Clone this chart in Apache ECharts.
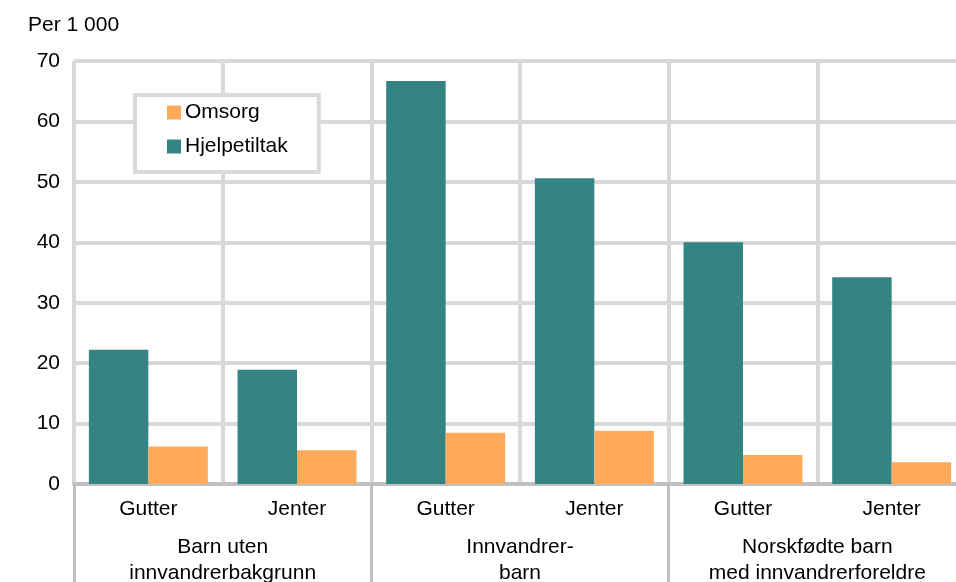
<!DOCTYPE html>
<html>
<head>
<meta charset="utf-8">
<script src="https://cdn.jsdelivr.net/npm/echarts@6/dist/echarts.min.js"></script>
<style>
html,body{margin:0;padding:0;background:#fff;}
#chart{width:956px;height:582px;}
</style>
</head>
<body>
<div id="chart"></div>
<script>
const subCategories = ['Gutter', 'Jenter', 'Gutter', 'Jenter', 'Gutter', 'Jenter'];
const groupCategories = ['Barn uten\ninnvandrerbakgrunn', 'Innvandrer-\nbarn', 'Norskfødte barn\nmed innvandrerforeldre'];
const hjelpetiltak = [22.2, 18.9, 66.7, 50.6, 40.0, 34.2];
const omsorg = [6.2, 5.6, 8.5, 8.8, 4.8, 3.6];
const yTicks = [0, 10, 20, 30, 40, 50, 60, 70];

const FONT = 'Liberation Sans, Arial, sans-serif';
const FS = 21;
const chart = echarts.init(document.getElementById('chart'), null, {renderer: 'canvas'});
chart.setOption({
  animation: false,
  textStyle: {fontFamily: FONT, color: '#000'},
  title: {
    text: 'Per 1 000', left: 23, top: 10,
    textStyle: {fontFamily: FONT, fontSize: FS, fontWeight: 'normal', color: '#000'}
  },
  legend: {
    data: ['Omsorg', 'Hjelpetiltak'],
    orient: 'vertical',
    left: 135, top: 95,
    icon: 'rect',
    itemWidth: 14, itemHeight: 14, itemGap: 13,
    padding: [7, 31, 15, 32],
    borderColor: '#d9d9d9', borderWidth: 4,
    backgroundColor: '#fff',
    textStyle: {fontFamily: FONT, fontSize: FS, color: '#000', padding: [0, 0, 0, -1]}
  },
  grid: {left: 74, width: 892, top: 61, bottom: 98, containLabel: false, outerBoundsMode: 'none'},
  xAxis: [
    {
      type: 'category', data: subCategories, position: 'bottom',
      axisLine: {show: true, lineStyle: {color: '#c0c0c0', width: 4}},
      axisTick: {show: false},
      splitLine: {show: true, interval: 0, lineStyle: {color: '#d9d9d9', width: 4}},
      axisLabel: {interval: 0, margin: 15, fontSize: FS, color: '#000', fontFamily: FONT}
    },
    {
      type: 'category', data: groupCategories, position: 'bottom',
      axisLine: {show: false},
      axisTick: {show: true, interval: 0, length: 110, lineStyle: {color: '#c0c0c0', width: 3}},
      splitLine: {show: false},
      axisLabel: {interval: 0, margin: 50, fontSize: FS, lineHeight: 26, color: '#000', fontFamily: FONT}
    }
  ],
  yAxis: {
    type: 'value', min: yTicks[0], max: yTicks[yTicks.length - 1], interval: 10,
    axisLine: {show: false},
    axisTick: {show: false},
    splitLine: {show: true, lineStyle: {color: '#d9d9d9', width: 4}},
    axisLabel: {margin: 14, fontSize: FS, color: '#000', fontFamily: FONT}
  },
  series: [
    {
      name: 'Hjelpetiltak', type: 'bar', data: hjelpetiltak,
      xAxisIndex: 0,
      barGap: '0%', barCategoryGap: '20%',
      itemStyle: {color: '#348483'}
    },
    {
      name: 'Omsorg', type: 'bar', data: omsorg,
      xAxisIndex: 0,
      barGap: '0%', barCategoryGap: '20%',
      itemStyle: {color: '#ffaa5a'}
    }
  ]
});
</script>
</body>
</html>
